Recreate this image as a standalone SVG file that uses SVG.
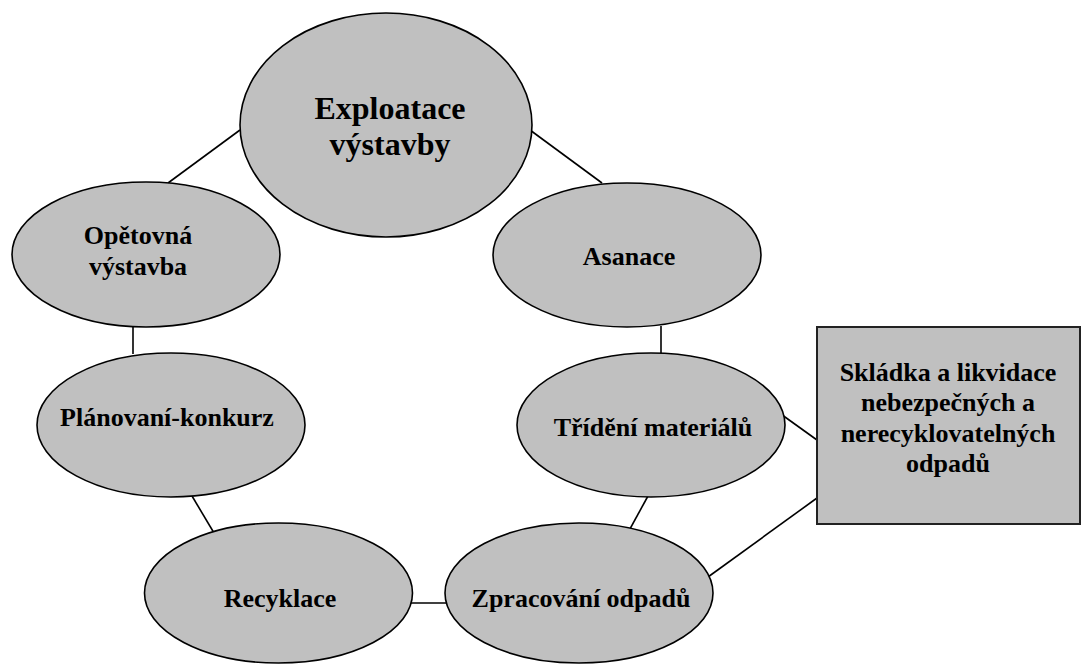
<svg xmlns="http://www.w3.org/2000/svg" width="1082" height="664" viewBox="0 0 1082 664">
<style>
.n{fill:#c0c0c0;stroke:#000;stroke-width:1.6}
.r{fill:#c0c0c0;stroke:#222;stroke-width:2}
.t{font-family:"Liberation Serif","Times New Roman",serif;font-weight:bold;font-size:26px;fill:#000;text-anchor:middle}
.big{font-size:32px}
.c line{stroke:#000;stroke-width:1.6}
</style>
<rect width="1082" height="664" fill="#fff"/>
<g class="c" id="connectors">
<line x1="240" y1="130" x2="168" y2="183"/>
<line x1="530" y1="130" x2="602" y2="183"/>
<line x1="133" y1="326" x2="133" y2="354"/>
<line x1="661" y1="326" x2="661" y2="354"/>
<line x1="192" y1="496" x2="217" y2="538"/>
<line x1="648" y1="496" x2="625" y2="538"/>
<line x1="408" y1="603" x2="446" y2="603"/>
<line x1="778" y1="412" x2="817" y2="440"/>
<line x1="817" y1="498" x2="708" y2="577"/>
</g>
<g id="exploatace">
<ellipse class="n" cx="386" cy="125" rx="146" ry="112"/>
<text class="t big" x="390" y="119">Exploatace</text>
<text class="t big" x="390" y="155">výstavby</text>
</g>
<g id="opetovna">
<ellipse class="n" cx="146" cy="254.5" rx="134" ry="72.5"/>
<text class="t" x="138" y="244">Opětovná</text>
<text class="t" x="138" y="275">výstavba</text>
</g>
<g id="asanace">
<ellipse class="n" cx="627" cy="255" rx="134" ry="72"/>
<text class="t" x="629" y="265">Asanace</text>
</g>
<g id="planovani">
<ellipse class="n" cx="171" cy="425" rx="134" ry="72"/>
<text class="t" x="167" y="426">Plánovaní-konkurz</text>
</g>
<g id="trideni">
<ellipse class="n" cx="651" cy="425" rx="134" ry="72"/>
<text class="t" x="653" y="436">Třídění materiálů</text>
</g>
<g id="skladka">
<rect class="r" x="817" y="327" width="263" height="197"/>
<text class="t" x="948" y="381">Skládka a likvidace</text>
<text class="t" x="948" y="411">nebezpečných a</text>
<text class="t" x="948" y="442">nerecyklovatelných</text>
<text class="t" x="948" y="472">odpadů</text>
</g>
<g id="recyklace">
<ellipse class="n" cx="278.5" cy="593" rx="134" ry="70"/>
<text class="t" x="280" y="607">Recyklace</text>
</g>
<g id="zpracovani">
<ellipse class="n" cx="579" cy="593" rx="134" ry="70"/>
<text class="t" x="581" y="607">Zpracování odpadů</text>
</g>
</svg>
